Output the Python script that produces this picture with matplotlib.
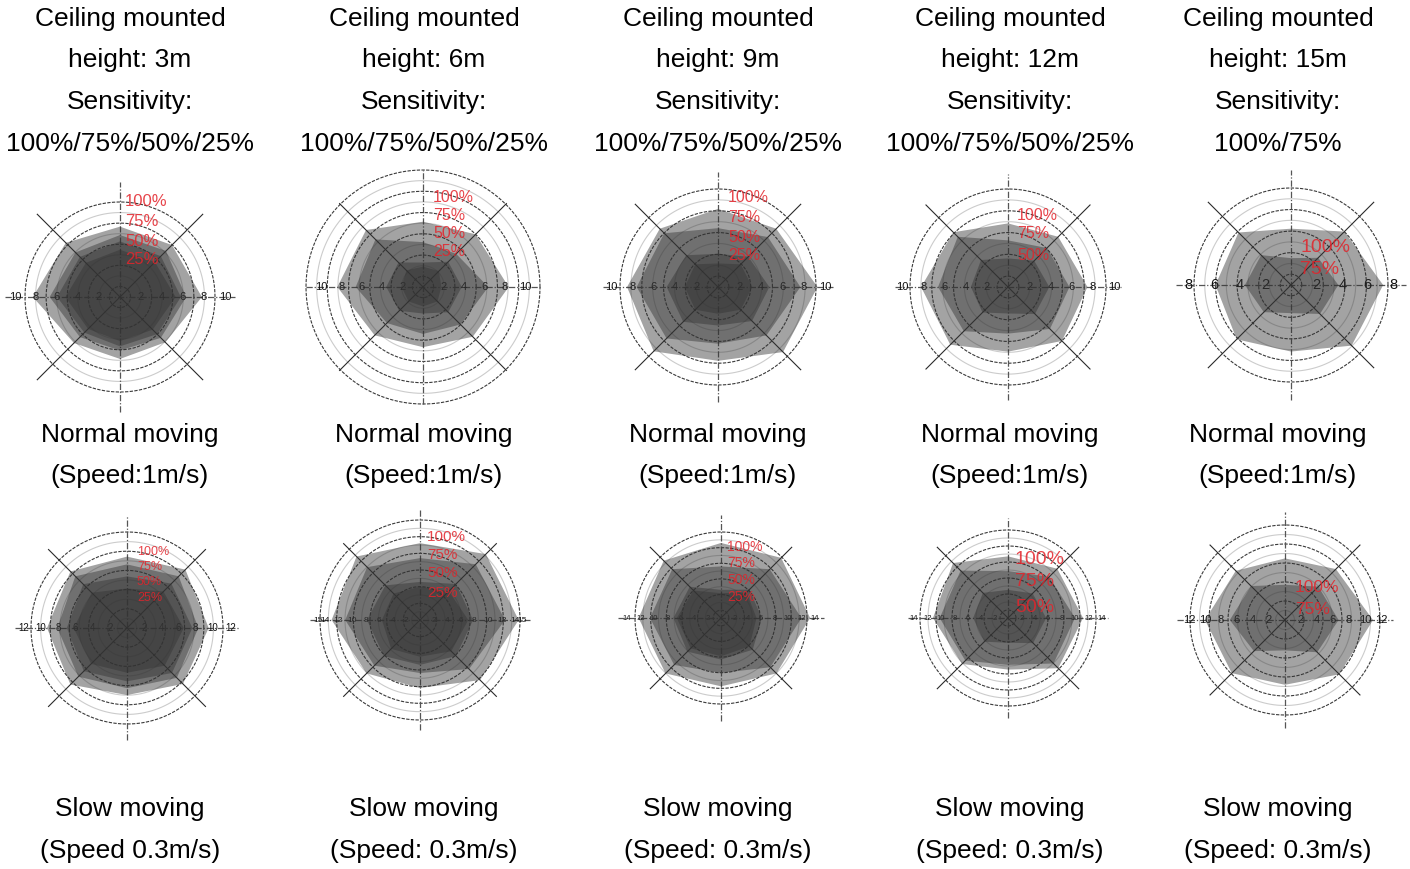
import numpy as np
import matplotlib
matplotlib.use('Agg')
import matplotlib.pyplot as plt

plt.rcParams['font.family'] = ['Liberation Sans', 'DejaVu Sans']

W, H = 1410, 869

# ---- texts ----
heights = ['3m', '6m', '9m', '12m', '15m']
sensitivities = ['100%/75%/50%/25%', '100%/75%/50%/25%', '100%/75%/50%/25%',
                 '100%/75%/50%/25%', '100%/75%']
normal_text = ['Normal moving', '(Speed:1m/s)']
slow_title = 'Slow moving'
slow_speed = ['(Speed 0.3m/s)', '(Speed: 0.3m/s)', '(Speed: 0.3m/s)',
              '(Speed: 0.3m/s)', '(Speed: 0.3m/s)']
levels = ['100%', '75%', '50%', '25%']

# directions of the detection polygons (deg): E, NE, N, NW, W, SW, S, SE
angles = [0, 45, 90, 135, 180, 225, 270, 315]

# ---- detection radius (m) per sensitivity level, normal moving ----
normal_3m = [[7.8, 7.0, 6.7, 7.3, 8.3, 6.2, 5.9, 6.1],
             [6.3, 6.2, 5.9, 6.0, 6.7, 5.4, 5.1, 5.5],
             [5.8, 5.5, 5.3, 5.4, 6.0, 4.8, 4.7, 5.0],
             [5.3, 4.7, 4.5, 4.6, 5.2, 4.3, 4.2, 4.4]]
normal_6m = [[8.4, 7.3, 6.4, 7.9, 8.4, 6.7, 5.9, 6.9],
             [6.4, 4.6, 4.4, 6.6, 6.6, 5.0, 4.6, 5.2],
             [3.8, 3.5, 2.4, 3.4, 3.6, 3.3, 2.6, 3.5],
             [1.8, 2.2, 2.0, 2.3, 2.1, 2.0, 1.9, 2.0]]
normal_9m = [[9.3, 7.7, 7.3, 7.7, 8.5, 8.5, 6.9, 8.6],
             [7.7, 6.6, 5.5, 7.1, 7.6, 6.8, 5.3, 6.4],
             [4.8, 4.0, 3.1, 4.2, 4.8, 4.6, 3.6, 4.5],
             [3.2, 3.0, 2.2, 3.0, 3.1, 3.0, 2.5, 3.0]]
normal_12m = [[7.5, 6.7, 6.0, 7.3, 8.2, 7.7, 6.1, 7.2],
              [5.8, 5.2, 4.4, 6.7, 6.6, 5.9, 4.4, 5.6],
              [3.9, 3.5, 2.7, 3.6, 3.5, 3.4, 2.5, 3.6]]
normal_15m = [[7.2, 5.9, 4.4, 5.8, 5.9, 6.0, 5.2, 6.7],
              [3.7, 3.0, 2.1, 3.3, 3.6, 3.0, 2.2, 3.2]]

# ---- detection radius (m) per sensitivity level, slow moving ----
slow_3m = [[9.5, 9.6, 8.3, 9.3, 9.3, 9.3, 7.8, 9.2],
           [8.3, 8.5, 7.4, 8.5, 8.1, 8.0, 7.0, 8.2],
           [7.6, 7.3, 6.0, 7.2, 7.0, 7.1, 6.2, 7.4],
           [6.6, 6.0, 4.6, 5.8, 6.2, 5.9, 5.2, 6.2]]
slow_6m = [[14.5, 13.7, 11.3, 13.2, 13.0, 11.1, 10.0, 12.5],
           [12.5, 11.6, 9.1, 11.0, 11.0, 9.5, 7.8, 10.2],
           [7.8, 7.5, 5.6, 7.2, 7.8, 7.5, 6.6, 7.5],
           [7.1, 6.0, 4.9, 5.5, 5.6, 6.0, 5.4, 6.5]]
slow_9m = [[13.3, 12.7, 11.2, 12.1, 12.3, 11.7, 10.2, 11.7],
           [12.0, 10.3, 7.7, 10.3, 10.6, 9.9, 8.2, 10.4],
           [6.1, 6.0, 4.2, 6.6, 7.1, 7.1, 6.2, 6.7],
           [5.3, 5.4, 3.7, 5.8, 6.6, 6.4, 5.7, 6.0]]
slow_12m = [[11.2, 10.4, 9.2, 11.6, 11.2, 9.7, 7.7, 10.6],
            [10.0, 8.7, 7.0, 10.0, 10.2, 9.0, 7.0, 9.6],
            [5.7, 5.2, 4.2, 5.3, 5.2, 5.0, 3.7, 5.3]]
slow_15m = [[11.0, 9.0, 7.7, 8.7, 10.0, 9.4, 8.1, 9.6],
            [6.7, 5.9, 4.4, 6.0, 6.9, 5.5, 3.8, 5.7]]

# tick labels on the horizontal axis
ticks_10 = [2, 4, 6, 8, 10]
ticks_8 = [2, 4, 6, 8]
ticks_12 = [2, 4, 6, 8, 10, 12]
ticks_15 = [2, 4, 6, 8, 10, 12, 14, 15]
ticks_14 = [2, 4, 6, 8, 10, 12, 14]

# ---- layout of each panel (pixels) ----
# cx, cy: centre ; s: px per metre ; ring_px: outer ring radius ; n: ring count
panels = [
    dict(data=normal_3m, ticks=ticks_10, cx=120, cy=297, s=10.5, ring_px=95, n=9,
         axis_px=115, diag_px=117, tfs=8, lfs=12, ldx=5, ldy=[-95, -76, -56, -37]),
    dict(data=normal_6m, ticks=ticks_10, cx=423, cy=287, s=10.2, ring_px=117, n=11,
         axis_px=117, diag_px=118, tfs=8, lfs=11.5, ldx=10, ldy=[-90, -72, -54, -35]),
    dict(data=normal_9m, ticks=ticks_10, cx=718, cy=287, s=10.7, ring_px=98, n=9,
         axis_px=115, diag_px=117, tfs=8, lfs=11.5, ldx=10, ldy=[-90, -70, -50, -31]),
    dict(data=normal_12m, ticks=ticks_10, cx=1008, cy=287, s=10.6, ring_px=98, n=9,
         axis_px=113, diag_px=116, tfs=8, lfs=11.5, ldx=9, ldy=[-72, -54, -32]),
    dict(data=normal_15m, ticks=ticks_8, cx=1291, cy=285, s=12.8, ring_px=97, n=9,
         axis_px=115, diag_px=117, tfs=10.5, lfs=14, ldx=9, ldy=[-37, -15]),
    dict(data=slow_3m, ticks=ticks_12, cx=127, cy=628, s=8.6, ring_px=96, n=10,
         axis_px=112, diag_px=111, tfs=7, lfs=9, ldx=10, ldy=[-76, -61, -46, -30]),
    dict(data=slow_6m, ticks=ticks_15, cx=420, cy=620, s=6.8, ring_px=100, n=12,
         axis_px=110, diag_px=108, tfs=6, lfs=11, ldx=7, ldy=[-83, -65, -47, -27]),
    dict(data=slow_9m, ticks=ticks_14, cx=721, cy=618, s=6.7, ring_px=86, n=11,
         axis_px=103, diag_px=100, tfs=5.5, lfs=10, ldx=6, ldy=[-71, -55, -38, -21]),
    dict(data=slow_12m, ticks=ticks_14, cx=1008, cy=618, s=6.7, ring_px=88, n=11,
         axis_px=100, diag_px=100, tfs=5.5, lfs=14, ldx=7, ldy=[-58, -36, -11]),
    dict(data=slow_15m, ticks=ticks_12, cx=1285, cy=620, s=8.0, ring_px=95, n=10,
         axis_px=108, diag_px=106, tfs=8, lfs=12.5, ldx=10, ldy=[-32, -10]),
]


def draw_panel(fig, p):
    half = 140
    ax = fig.add_axes([(p['cx'] - half) / W, 1 - (p['cy'] + half) / H, 2 * half / W, 2 * half / H])
    s = p['s']
    ax.set_xlim(-half / s, half / s)
    ax.set_ylim(-half / s, half / s)
    ax.axis('off')
    ax.patch.set_visible(False)

    th = np.linspace(0, 2 * np.pi, 300)
    R = p['ring_px'] / s
    n = p['n']
    for k in range(1, n + 1):
        r = R * k / n
        if (n - k) % 2 == 0:
            ax.plot(r * np.cos(th), r * np.sin(th), color='#3a3a3a', lw=0.8,
                    ls=(0, (3, 1.2)), zorder=1)
        else:
            ax.plot(r * np.cos(th), r * np.sin(th), color='#cccccc', lw=0.8, zorder=1)

    L = p['axis_px'] / s
    ax.plot([-L, L], [0, 0], color='#555555', lw=0.9, ls=(0, (5, 1.5, 1, 1.5)), zorder=1)
    ax.plot([0, 0], [-L, L], color='#555555', lw=0.9, ls=(0, (5, 1.5, 1, 1.5)), zorder=1)
    d = p['diag_px'] / s / np.sqrt(2)
    ax.plot([-d, d], [-d, d], color='#2a2a2a', lw=0.8, zorder=1)
    ax.plot([-d, d], [d, -d], color='#2a2a2a', lw=0.8, zorder=1)

    for t in p['ticks']:
        for sign in (-1, 1):
            ax.text(sign * t, 0, str(t), fontsize=p['tfs'], ha='center', va='center',
                    color='#111111', zorder=2)

    a = np.radians(angles)
    for rr in p['data']:
        rr = np.array(rr)
        ax.fill(rr * np.cos(a), rr * np.sin(a), color='#333333', alpha=0.45, lw=0, zorder=3)

    for lab, dy in zip(levels, p['ldy']):
        ax.text(p['ldx'] / s, -dy / s, lab, fontsize=p['lfs'], ha='left', va='center',
                color='#e3242b', alpha=0.85, zorder=4)


fig = plt.figure(figsize=(W / 100, H / 100), dpi=100)
fig.patch.set_facecolor('white')

xc = [130, 424, 718, 1010, 1278]
tfont = 19
for i in range(5):
    lines = ['Ceiling mounted', 'height: ' + heights[i], 'Sensitivity:', sensitivities[i]]
    for txt, y in zip(lines, [19, 60, 102, 144]):
        fig.text(xc[i] / W, 1 - y / H, txt, fontsize=tfont, ha='center', va='center')
    for txt, y in zip(normal_text, [435, 476]):
        fig.text(xc[i] / W, 1 - y / H, txt, fontsize=tfont, ha='center', va='center')
    fig.text(xc[i] / W, 1 - 809 / H, slow_title, fontsize=tfont, ha='center', va='center')
    fig.text(xc[i] / W, 1 - 851 / H, slow_speed[i], fontsize=tfont, ha='center', va='center')

for p in panels:
    draw_panel(fig, p)

fig.savefig('out.png', dpi=100, facecolor='white')
